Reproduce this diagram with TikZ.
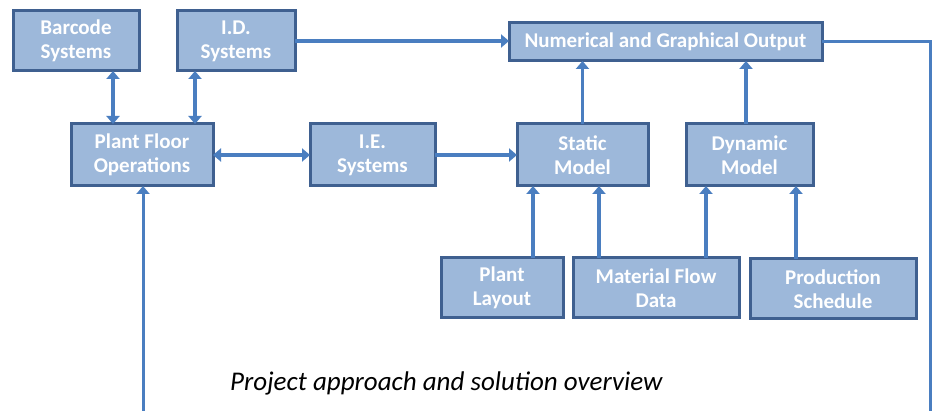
\documentclass[tikz,border=0pt]{standalone}
\usepackage{fontspec}
\setmainfont{Carlito}
\usetikzlibrary{arrows.meta}
\definecolor{boxfill}{HTML}{9DB8DA}
\definecolor{boxline}{HTML}{3F6090}
\definecolor{linkc}{HTML}{4A7EC0}
\tikzset{
  blk/.style={draw=boxline, fill=boxfill, line width=3pt, text=white,
    font=\fontsize{21}{24}\selectfont\bfseries, align=center,
    inner sep=0pt, outer sep=0pt},
  link/.style={draw=linkc, line width=4pt},
  thinlink/.style={draw=linkc, line width=3pt},
  tip/.style={-{Triangle[width=13pt,length=8pt]}},
  tips/.style={{Triangle[width=13pt,length=8pt]}-{Triangle[width=13pt,length=8pt]}}
}
\begin{document}
\begin{tikzpicture}[x=1pt,y=-1pt]
\useasboundingbox (0,0) rectangle (935,411);
\fill[white] (0,0) rectangle (935,411);
% boxes
\node[blk, minimum width=126pt, minimum height=60pt] (barcode) at (76,41) {Barcode\\Systems};
\node[blk, minimum width=118pt, minimum height=60pt] (idsys) at (236,41) {I.D.\\Systems};
\node[blk, minimum width=313pt, minimum height=38pt] (output) at (665.5,42) {Numerical and Graphical Output};
\node[blk, minimum width=142pt, minimum height=62pt] (pfo) at (142,155) {Plant Floor\\Operations};
\node[blk, minimum width=125pt, minimum height=62pt] (ie) at (372.5,155) {I.E.\\Systems};
\node[blk, minimum width=131pt, minimum height=62pt] (static) at (582.5,155) {Static\\Model};
\node[blk, minimum width=127pt, minimum height=62pt] (dynamic) at (749.5,155) {Dynamic\\Model};
\node[blk, minimum width=122pt, minimum height=60pt] (layout) at (502,288) {Plant\\Layout};
\node[blk, minimum width=166pt, minimum height=60pt] (mfd) at (656,288) {Material Flow\\Data};
\node[blk, minimum width=166pt, minimum height=60pt] (prod) at (833,289) {Production\\Schedule};
% caption
\node[anchor=base west, inner sep=0pt, font=\fontsize{27}{31}\selectfont\itshape] (cap) at (230,391) {Project approach and solution overview};
% loop ends
\coordinate (lb) at (143,411);
\coordinate (rb) at (930,411);
% connectors
\draw[link, tips] ([xshift=37pt]barcode.south) -- ([xshift=37pt]barcode.south |- pfo.north);
\draw[link, tips] ([xshift=-41pt]idsys.south) -- ([xshift=-41pt]idsys.south |- pfo.north);
\draw[link, tips] (pfo.east) -- (ie.west);
\draw[link, tip] (idsys.east) -- (idsys.east -| output.west);
\draw[link, tip] (ie.east) -- (static.west);
\draw[thinlink, tip] (static.north) -- (static.north |- output.south);
\draw[link, tip] ([xshift=-3.5pt]dynamic.north) -- ([xshift=-3.5pt]dynamic.north |- output.south);
\draw[link, tip] ([xshift=31pt]layout.north) -- ([xshift=31pt]layout.north |- static.south);
\draw[link, tip] ([xshift=-57pt]mfd.north) -- ([xshift=-57pt]mfd.north |- static.south);
\draw[link, tip] ([xshift=50pt]mfd.north) -- ([xshift=50pt]mfd.north |- dynamic.south);
\draw[link, tip] ([xshift=-37pt]prod.north) -- ([xshift=-37pt]prod.north |- dynamic.south);
\draw[thinlink] (output.east) -| (rb);
\draw[thinlink, tip] (lb) -- (lb |- pfo.south);
\end{tikzpicture}
\end{document}
